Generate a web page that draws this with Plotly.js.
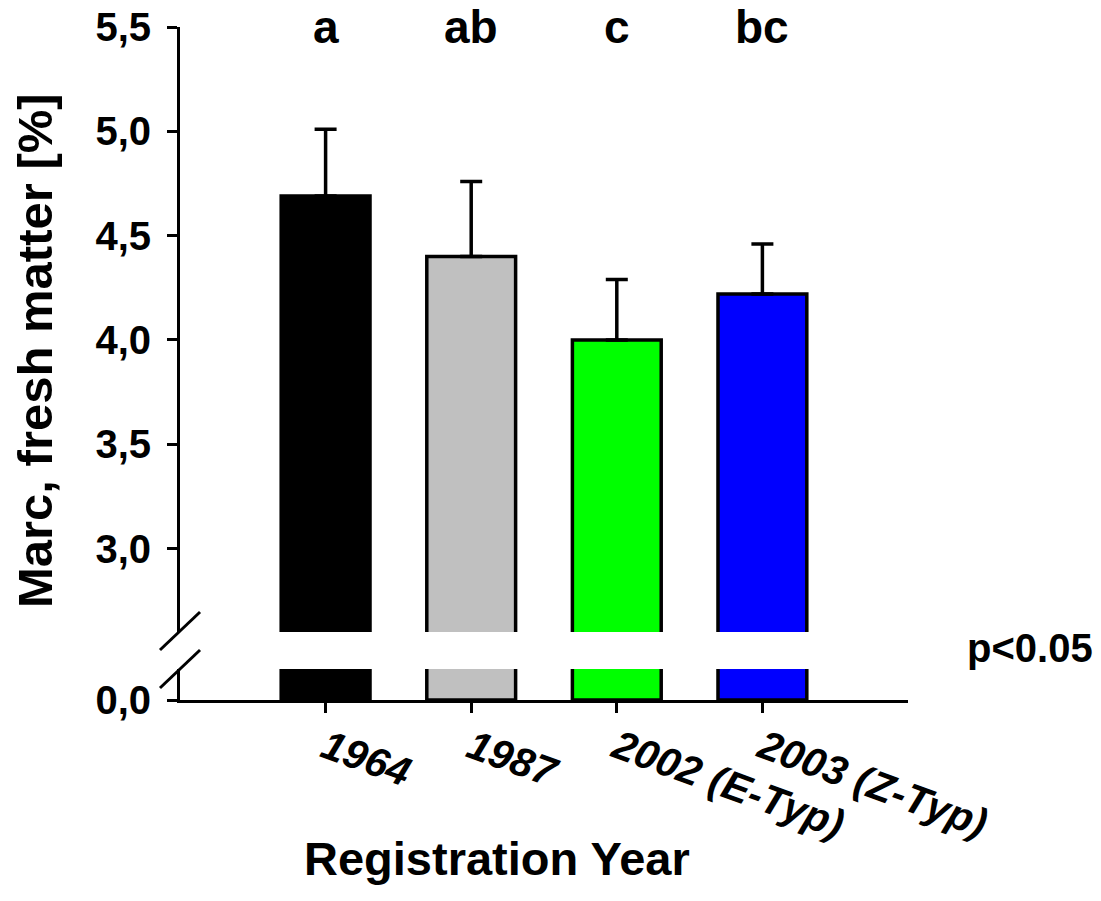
<!DOCTYPE html>
<html>
<head>
<meta charset="utf-8">
<script src="https://cdn.plot.ly/plotly-3.0.1.min.js"></script>
<style>html,body{margin:0;padding:0;background:#fff;}</style>
</head>
<body>
<div id="chart" style="width:1101px;height:901px;"></div>
<script>
// ---- data ----
const years = ["1964", "1987", "2002 (E-Typ)", "2003 (Z-Typ)"];
const means = [4.69, 4.40, 4.00, 4.22];
const errUp = [0.32, 0.36, 0.29, 0.24];
const barColors = ["#000000", "#c0c0c0", "#00ff00", "#0000ff"];
const groupLetters = ["a", "ab", "c", "bc"];
const upperTicks = [3.0, 3.5, 4.0, 4.5, 5.0, 5.5];
const upperTickLabels = ["3,0", "3,5", "4,0", "4,5", "5,0", "5,5"];
const lowerTicks = [0.0];
const lowerTickLabels = ["0,0"];
const yTitle = "Marc, fresh matter [%]";
const xTitle = "Registration Year";
const sigNote = "p<0.05";

const FONT = "Arial, 'Liberation Sans', sans-serif";

const upper = {
  type: "bar", x: years, y: means, xaxis: "x", yaxis: "y",
  width: 0.61,
  marker: { color: barColors, line: { color: "#000", width: 3.5 } },
  error_y: { type: "data", symmetric: false, array: errUp, arrayminus: years.map(() => 0),
             color: "#000", thickness: 3.5, width: 11 },
  showlegend: false, hoverinfo: "skip"
};
const lower = {
  type: "bar", x: years, y: means, xaxis: "x", yaxis: "y2",
  width: 0.61,
  marker: { color: barColors, line: { color: "#000", width: 3.5 } },
  showlegend: false, hoverinfo: "skip"
};

const annotations = groupLetters.map((t, i) => ({
  text: t, x: i, y: 5.5, xref: "x", yref: "y", showarrow: false,
  yanchor: "middle", yshift: 0,
  font: { family: FONT, size: 46, weight: "bold", color: "#000" }
}));
annotations.push({
  text: yTitle, xref: "paper", yref: "paper", x: -0.1992, y: 0.52, textangle: -90,
  showarrow: false, xanchor: "center", yanchor: "middle",
  font: { family: FONT, size: 49, weight: "bold", color: "#000" }
});
annotations.push({
  text: xTitle, xref: "paper", yref: "paper", x: 0.4354, y: -0.2348,
  showarrow: false, xanchor: "center", yanchor: "middle",
  font: { family: FONT, size: 47, weight: "bold", color: "#000" }
});
annotations.push({
  text: sigNote, xref: "paper", yref: "paper", x: 1.1676, y: 0.0773,
  showarrow: false, xanchor: "center", yanchor: "middle",
  font: { family: FONT, size: 40, weight: "bold", color: "#000" }
});

const shapes = [
  { type: "line", xref: "paper", yref: "paper", x0: -0.0275, y0: 0.0743, x1: 0.0275, y1: 0.1308,
    line: { color: "#000", width: 3 } },
  { type: "line", xref: "paper", yref: "paper", x0: -0.0275, y0: 0.0178, x1: 0.0275, y1: 0.0743,
    line: { color: "#000", width: 3 } }
];

const axisCommon = {
  showgrid: false, zeroline: false, showline: true, linecolor: "#000", linewidth: 3,
  ticks: "outside", ticklen: 10, tickwidth: 3, tickcolor: "#000"
};

const layout = {
  width: 1101, height: 901, autosize: false,
  margin: { l: 180, r: 193, t: 27, b: 201, pad: 0 },
  paper_bgcolor: "#fff", plot_bgcolor: "#fff",
  font: { family: FONT, color: "#000" },
  xaxis: Object.assign({}, axisCommon, {
    type: "category", range: [-1, 4], anchor: "y2",
    tickangle: 20, ticklabelstandoff: -5,
    tickfont: { family: FONT, size: 41, weight: "bold", style: "italic", color: "#000" }
  }),
  yaxis: Object.assign({}, axisCommon, {
    domain: [0.101, 1], range: [2.6, 5.5], anchor: "x",
    tickmode: "array", tickvals: upperTicks, ticktext: upperTickLabels, ticklabelstandoff: 8,
    tickfont: { family: FONT, size: 40, weight: "bold", color: "#000" }
  }),
  yaxis2: Object.assign({}, axisCommon, {
    domain: [0, 0.046], range: [0, 0.15], anchor: "x",
    tickmode: "array", tickvals: lowerTicks, ticktext: lowerTickLabels, ticklabelstandoff: 8,
    tickfont: { family: FONT, size: 40, weight: "bold", color: "#000" }
  }),
  annotations: annotations,
  shapes: shapes
};

Plotly.newPlot("chart", [upper, lower], layout, { displayModeBar: false, staticPlot: true });
</script>
</body>
</html>
